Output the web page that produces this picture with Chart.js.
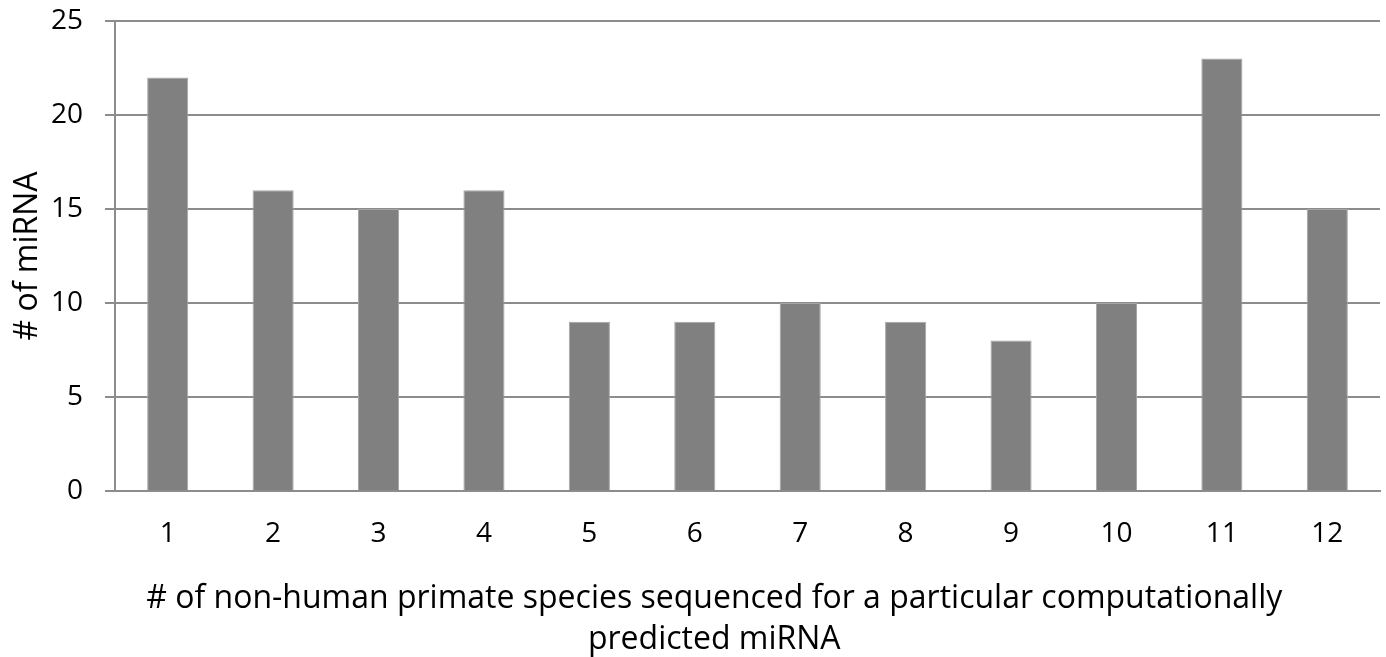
<!DOCTYPE html>
<html>
<head>
<meta charset="utf-8">
<script src="https://cdn.jsdelivr.net/npm/chart.js@4"></script>
<style>
  html, body { margin: 0; padding: 0; background: #fff; }
  #wrap { width: 1386px; height: 657px; }
</style>
</head>
<body>
<div id="wrap"><canvas id="chart" width="1386" height="657"></canvas></div>
<script>
// data
var categories = ["1", "2", "3", "4", "5", "6", "7", "8", "9", "10", "11", "12"];
var mirnaCounts = [22, 16, 15, 16, 9, 9, 10, 9, 8, 10, 23, 15];
var yTicks = [0, 5, 10, 15, 20, 25];

var gridColor = "#8c8c8c";
var fontFamily = "'Open Sans', 'DejaVu Sans', sans-serif";
// trailing spaces nudge the centred title a bit left, like the original
var titlePad = "        ";

new Chart(document.getElementById("chart"), {
    type: "bar",
    data: {
        labels: categories,
        datasets: [{
            data: mirnaCounts,
            backgroundColor: "#808080",
            borderColor: "#a6a6a6",
            borderWidth: 1,
            barPercentage: 0.39,
            categoryPercentage: 1.0
        }]
    },
    options: {
        responsive: false,
        animation: false,
        layout: { padding: { top: 21, right: 6, left: 0, bottom: 0 } },
        plugins: {
            legend: { display: false },
            tooltip: { enabled: false }
        },
        scales: {
            x: {
                grid: { display: false },
                border: { display: true, color: gridColor, width: 2 },
                ticks: {
                    color: "#000",
                    padding: 18,
                    font: { family: fontFamily, size: 28 }
                },
                title: {
                    display: true,
                    text: ["# of non-human primate species sequenced for a particular computationally" + titlePad,
                           "predicted miRNA" + titlePad],
                    color: "#000",
                    font: { family: fontFamily, size: 32, lineHeight: 1.3 },
                    padding: { top: 10, bottom: -4 }
                },
                afterFit: function (scale) {
                    scale.height = 166;
                    scale.paddingLeft = 0;
                    scale.paddingRight = 0;
                }
            },
            y: {
                min: 0,
                max: 25,
                afterBuildTicks: function (scale) {
                    scale.ticks = yTicks.map(function (v) { return { value: v }; });
                },
                grid: {
                    color: gridColor,
                    lineWidth: 2,
                    tickLength: 10,
                    drawTicks: true
                },
                border: { display: true, color: gridColor, width: 2 },
                ticks: {
                    color: "#000",
                    padding: 22,
                    font: { family: fontFamily, size: 28 }
                },
                title: {
                    display: true,
                    text: "# of miRNA",
                    color: "#000",
                    font: { family: fontFamily, size: 32 },
                    padding: { top: 9, bottom: 0 }
                },
                afterFit: function (scale) {
                    scale.width = 115;
                    scale.paddingTop = 0;
                    scale.paddingBottom = 0;
                }
            }
        }
    }
});
</script>
</body>
</html>
